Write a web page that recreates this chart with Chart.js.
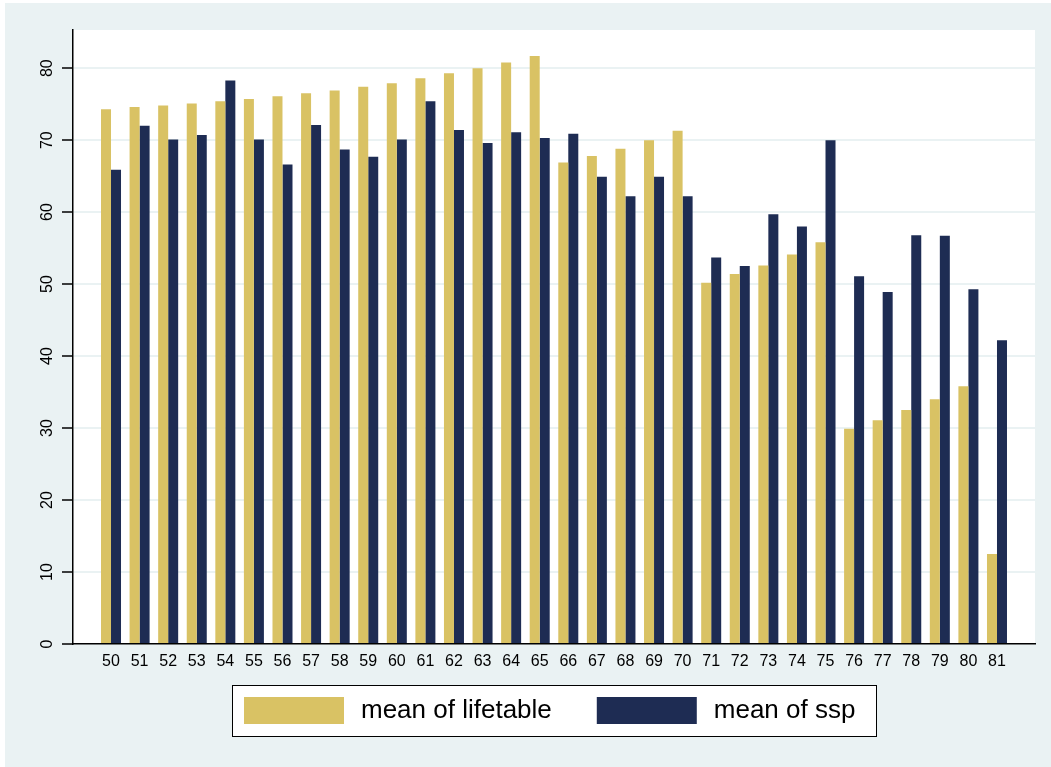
<!DOCTYPE html>
<html>
<head>
<meta charset="utf-8">
<script src="https://cdn.jsdelivr.net/npm/chart.js@4/dist/chart.umd.min.js"></script>
<style>
  html, body { margin: 0; padding: 0; background: #ffffff; }
  #wrap { width: 1051px; height: 767px; position: relative; }
</style>
</head>
<body>
<div id="wrap"><canvas id="chart"></canvas></div>
<script>
// Age groups on the x axis
const ages = [50, 51, 52, 53, 54, 55, 56, 57, 58, 59, 60, 61, 62, 63, 64, 65,
              66, 67, 68, 69, 70, 71, 72, 73, 74, 75, 76, 77, 78, 79, 80, 81];

// Mean of lifetable by age
const lifetable = [74.3, 74.6, 74.8, 75.1, 75.4, 75.7, 76.1, 76.5, 76.9, 77.4, 77.9, 78.6,
                   79.3, 80.0, 80.8, 81.7, 66.9, 67.8, 68.8, 70.0, 71.3, 50.2, 51.4, 52.6,
                   54.1, 55.8, 29.9, 31.1, 32.5, 34.0, 35.8, 12.5];

// Mean of ssp by age
const ssp = [65.9, 72.0, 70.1, 70.7, 78.3, 70.1, 66.6, 72.1, 68.7, 67.7, 70.1, 75.4,
             71.4, 69.6, 71.1, 70.3, 70.9, 64.9, 62.2, 64.9, 62.2, 53.7, 52.5, 59.7,
             58.0, 70.0, 51.1, 48.9, 56.8, 56.7, 49.3, 42.2];

// Value axis tick labels
const yTicks = [0, 10, 20, 30, 40, 50, 60, 70, 80];

const seriesLabels = ['mean of lifetable', 'mean of ssp'];
const seriesColors = ['#D9C264', '#1E2C53'];

const FONT = "'Liberation Sans', Arial, Helvetica, sans-serif";
const BG = '#EAF2F3';

// Panel background, white plot region
const backdrop = {
  id: 'backdrop',
  beforeDraw(chart) {
    const { ctx, chartArea: a } = chart;
    ctx.save();
    ctx.fillStyle = '#ffffff';
    ctx.fillRect(0, 0, chart.width, chart.height);
    ctx.fillStyle = BG;
    ctx.fillRect(5, 3, chart.width - 5, chart.height - 3);
    ctx.fillStyle = '#ffffff';
    ctx.fillRect(a.left, a.top, a.right - a.left, a.bottom - a.top);
    ctx.restore();
  }
};

// Boxed legend under the plot
const boxLegend = {
  id: 'boxLegend',
  afterDraw(chart) {
    const { ctx, chartArea: a } = chart;
    const boxW = 644, boxH = 51;
    const cx = (a.left + a.right) / 2;
    const left = Math.round(cx - boxW / 2) + 0.5;
    const top = 685.5;
    ctx.save();
    ctx.fillStyle = '#ffffff';
    ctx.fillRect(left, top, boxW, boxH);
    ctx.strokeStyle = '#000000';
    ctx.lineWidth = 1;
    ctx.strokeRect(left, top, boxW, boxH);
    ctx.font = '26px ' + FONT;
    ctx.textBaseline = 'middle';
    ctx.textAlign = 'left';
    let x = left + 11.5;
    chart.data.datasets.forEach((ds, i) => {
      ctx.fillStyle = ds.backgroundColor;
      ctx.fillRect(x, 697, 100, 27);
      ctx.fillStyle = '#000000';
      ctx.fillText(ds.label, x + 117, 711);
      x += 117 + ctx.measureText(ds.label).width + 45;
    });
    ctx.restore();
  }
};

const datasets = [lifetable, ssp].map((vals, i) => ({
  label: seriesLabels[i],
  data: ages.map((age, k) => ({ x: age, y: vals[k] })),
  backgroundColor: seriesColors[i],
  borderWidth: 0,
  barPercentage: 1.0,
  categoryPercentage: 0.7
}));

new Chart(document.getElementById('chart'), {
  type: 'bar',
  data: { datasets },
  plugins: [backdrop, boxLegend],
  options: {
    responsive: true,
    maintainAspectRatio: false,
    animation: false,
    layout: { padding: { top: 30, right: 16, left: 0, bottom: 0 } },
    plugins: {
      legend: { display: false },
      tooltip: { enabled: false }
    },
    scales: {
      x: {
        type: 'linear',
        offset: false,
        min: 48.67,
        max: 82.33,
        afterBuildTicks(scale) { scale.ticks = ages.map(v => ({ value: v })); },
        afterFit(scale) { scale.height = 123; },
        grid: { display: false, drawTicks: false, offset: false },
        border: { display: true, color: '#000000', width: 1.5 },
        ticks: {
          autoSkip: false,
          maxRotation: 0,
          padding: 8,
          color: '#000000',
          font: { family: FONT, size: 16 },
          callback: v => String(v)
        }
      },
      y: {
        min: 0,
        max: 85.3,
        afterBuildTicks(scale) { scale.ticks = yTicks.map(v => ({ value: v })); },
        afterFit(scale) { scale.width = 73; },
        grid: {
          color: ctx => (ctx.tick && ctx.tick.value === 0) ? 'rgba(0,0,0,0)' : BG,
          lineWidth: 2,
          drawTicks: true,
          tickLength: 11,
          tickColor: '#000000',
          tickWidth: 1.5
        },
        border: { display: true, color: '#000000', width: 1.5 },
        ticks: {
          minRotation: 90,
          maxRotation: 90,
          crossAlign: 'center',
          padding: 6,
          color: '#000000',
          font: { family: FONT, size: 16 },
          callback: v => String(v)
        }
      }
    }
  }
});
</script>
</body>
</html>
